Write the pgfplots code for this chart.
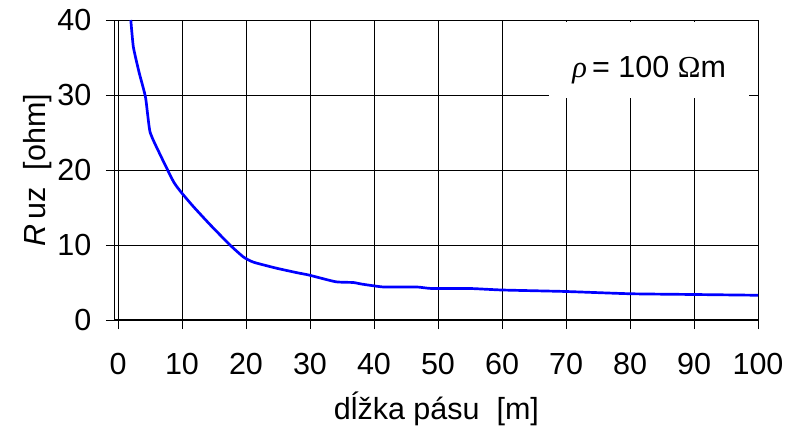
\documentclass[border=0pt]{standalone}
\usepackage{pgfplots}
\pgfplotsset{compat=1.18}
\usepackage{fontspec}
\setmainfont{Liberation Sans}
\newfontfamily\serifgr{Liberation Serif}
\begin{document}
\begin{tikzpicture}
\useasboundingbox (0,0) rectangle (790bp,436bp);
\begin{axis}[
  at={(118bp,116bp)}, anchor=origin,
  scale only axis, width=643.2bp, height=300bp,
  xmin=-0.5, xmax=100, ymin=0, ymax=40,
  axis x line*=bottom, axis y line*=left,
  axis line style={-, line width=1.3pt},
  xtick={0,10,...,100}, ytick={0,10,...,40},
  grid=major, major grid style={black, line width=0.6pt},
  tick style={black, line width=0.8pt},
  major tick length=9bp,
  tick align=outside,
  font=\fontsize{30.5bp}{34bp}\selectfont,
  /pgf/number format/assume math mode=true,
  xticklabel style={yshift=-21bp},
  yticklabel style={xshift=-11bp},
  xlabel={dĺžka pásu \ [m]},
  ylabel={{\itshape R}\,uz \ [ohm]},
  xlabel style={yshift=-10bp},
  ylabel style={yshift=-1bp},
  clip=false,
]
\addplot[blue, line width=2.7pt, smooth, tension=0.3] coordinates {
(2,40) (2.4,36.4) (3.3,33) (4.3,29.7) (5,25.1) (6.5,22.2) (8.7,18.4) (10,16.9) (11.8,15.1) (14.4,12.7) (17.5,10) (19.6,8.4) (21.2,7.7) (24.8,6.9) (28,6.3) (29.8,6.0) (34,5.1) (36.8,5.0) (38,4.8) (41.5,4.4) (46.7,4.4) (49,4.2) (55,4.2) (60,4.0) (70,3.8) (80,3.5) (90,3.4) (100,3.3)
};
\fill[white] (axis cs:67.3,29.6) rectangle (axis cs:98.6,39.7);
\node at (axis cs:83,33.3) {{\serifgr\itshape ρ}\,= 100 {\serifgr Ω}m};
\end{axis}
\end{tikzpicture}
\end{document}
